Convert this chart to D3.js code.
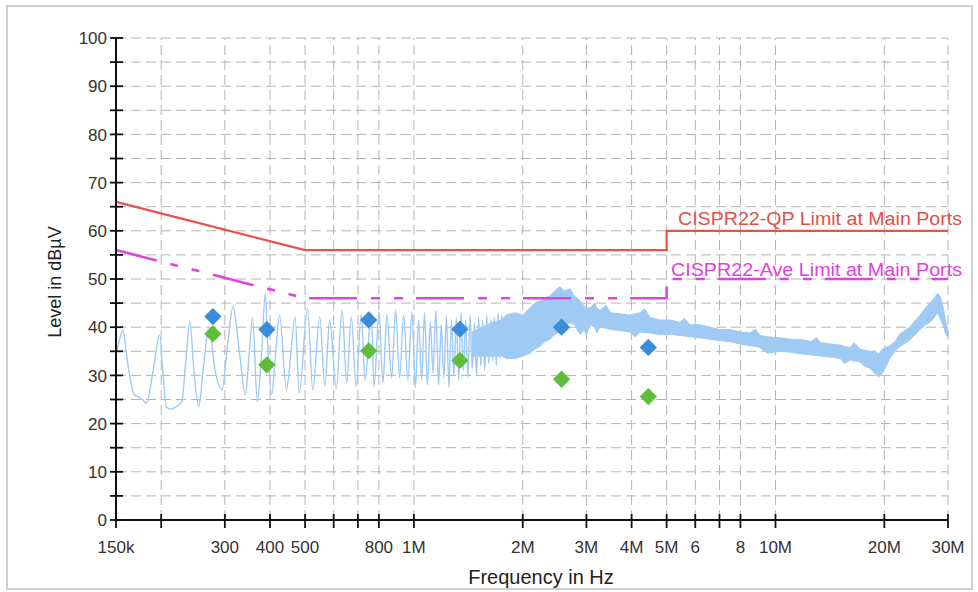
<!DOCTYPE html>
<html><head><meta charset="utf-8">
<script src="https://cdn.jsdelivr.net/npm/d3@7"></script>
<style>
html,body{margin:0;padding:0;background:#fff;}
svg{display:block;}
text{font-family:"Liberation Sans",Arial,sans-serif;}
</style></head>
<body>
<script>
// ---- data ----
const xTicks = [150e3,200e3,300e3,400e3,500e3,600e3,700e3,800e3,1e6,2e6,3e6,4e6,5e6,6e6,7e6,8e6,10e6,20e6,30e6];
const xTickLabels = ["150k","","300","400","500","","","800","1M","2M","3M","4M","5M","6","","8","10M","20M","30M"];
const yTicks = [0,10,20,30,40,50,60,70,80,90,100];
const yMinor = [5,15,25,35,45,55,65,75,85,95];

// limits (MHz, dBµV)
const limitF = [0.15, 0.5, 5, 5, 30];
const qpLimit = [66, 56, 56, 60, 60];
const aveLimit = [56, 46, 46, 50, 50];

// final measurement markers (MHz)
const markF = [0.278, 0.392, 0.750, 1.34, 2.56, 4.45];
const qpMark = [42.2, 39.5, 41.5, 39.6, 40.0, 35.8];
const aveMark = [38.6, 32.2, 35.1, 33.1, 29.2, 25.6];

// pre-scan spectrum, low band (kHz, dBµV)
const specF = [150,153,156.8,160,163.8,168.5,173,177.6,182,190,198,202,206.6,212,218,228,234,240,247,254,262,271,282,294.6,305,316,329,342,350,358,369,380,388,395,404,414,425,444,456,469,482,508,525,549,567,585,610,633,652,671,692,715,733,762,776,801,821,842,868,890,913,937,962,988,1010,1030,1050,1070,1090,1110,1130,1150,1170,1190,1210,1230,1250,1270,1290,1310,1330,1350,1370,1390,1410,1430,1450,1470,1490,1510,1530,1550,1570,1590,1610,1630,1650,1670,1690,1710,1730,1750];
const specL = [34.5,37,39.5,35,29.7,26,25.5,25,24.2,31,38.4,31,23.5,23,23.3,24.5,33,41.1,30,23.5,32,40,31,27,36,44.3,35,26,34,41.9,24.5,36,47,35,26,34,42.5,27,34,42.2,26.3,44,27,42.2,27.7,41.5,27.3,43.6,28.4,42.2,27.7,42.6,29,43,27.7,43.2,28.5,42.6,29.5,43.6,29.5,42.6,29,43.2,27.5,41.5,29,43,28,41,30.5,43.5,28,40.5,29.5,42.5,27.5,41.5,30,42,29,43,31,41.5,29.5,42.5,31.5,41,30,42,32,41.5,31,42.5,32.5,41.5,33,42,32,43,33.5,42.5];

// pre-scan spectrum, dense band envelope (MHz, dBµV)
const bandF  = [1.45,1.55,1.65,1.75,1.80,1.90,2.00,2.09,2.16,2.23,2.30,2.38,2.45,2.53,2.61,2.70,2.78,2.88,2.95,3.00,3.07,3.17,3.20,3.27,3.40,3.50,3.72,3.95,4.10,4.22,4.35,4.50,4.79,5.10,5.44,5.60,5.80,6.18,6.60,7.02,7.50,7.98,8.50,8.80,9.06,9.50,10.3,11.0,11.7,12.5,13.0,13.3,14.2,15.1,15.5,16.1,16.5,17.1,17.6,18.2,18.8,19.3,19.8,20.7,21.4,22.1,23.5,25.1,26.0,26.7,27.5,28.0,28.5,29.2,29.6,30.0];
const bandHi = [39,40,41,41.5,42.5,43,42.5,44,45,45.5,46,46.5,47.5,48.4,47.5,48,46.5,45.5,44.5,44,44,45,44,43.5,44.5,43,42.8,42.5,42.8,43,43.8,42,41.5,41.5,41,41.8,40.5,40.5,40,39.5,39.5,39,38.8,39.6,38.3,38,37.8,37.5,37.5,37,37.8,36.8,36.5,36.3,36,35.8,36.8,35.5,35.2,35,35,34.5,35.5,36.2,37,38.6,40,42.5,44,45,46,47,46.5,43.5,41,39];
const bandLo = [34,34,34,34,33.5,33.5,34,34.5,35.5,36,37,37.5,38.5,39,40,41,40.5,38.5,39.5,38.5,40.5,40,38.8,40,39.8,39.5,39.3,39,38,39,38.9,38.8,38.5,38.5,38.3,38.2,38,37.8,37.5,37.2,37,36.5,36.2,36,35.8,34.6,35,34.8,34.5,34.3,34.1,34,33.8,33.5,32.5,33.2,33,32.8,32,31.5,30.5,29.7,30.5,33.5,35,36,37.3,39.5,40.5,41,42,43,42,40,38.5,38];

// labels
const qpLabel = "CISPR22-QP Limit at Main Ports";
const aveLabel = "CISPR22-Ave Limit at Main Ports";
const xTitle = "Frequency in Hz";
const yTitle = "Level in dBµV";

// ---- drawing ----
const W = 978, H = 592;
const svg = d3.select("body").append("svg").attr("width", W).attr("height", H);

svg.append("rect").attr("x",7).attr("y",6).attr("width",965).attr("height",583)
  .attr("fill","#fff").attr("stroke","#cfcfcf").attr("stroke-width",2);

const x = d3.scaleLog().domain([150e3, 30e6]).range([116, 948]);
const y = d3.scaleLinear().domain([0, 100]).range([520, 38]);

// grid
const grid = svg.append("g").attr("stroke","#b4b4b4").attr("stroke-width",1).attr("stroke-dasharray","10,5");
grid.selectAll("line.h").data(yTicks.concat(yMinor).filter(v=>v>0)).join("line")
  .attr("x1", x(150e3)).attr("x2", x(30e6)).attr("y1", d=>y(d)).attr("y2", d=>y(d));
grid.selectAll("line.v").data(xTicks.slice(1)).join("line")
  .attr("x1", d=>x(d)).attr("x2", d=>x(d)).attr("y1", y(0)).attr("y2", y(100));

// spectrum
const specColor = "#9fcaf3";
const lineGen = d3.line().x(d=>x(d[0])).y(d=>y(d[1]));
const areaGen = d3.area().x(d=>x(d.f)).y0(d=>y(d.lo)).y1(d=>y(d.hi));
svg.append("path")
  .datum(bandF.map((f,i)=>({f:f*1e6, hi:bandHi[i], lo:bandLo[i]})))
  .attr("d", areaGen).attr("fill",specColor).attr("stroke",specColor).attr("stroke-width",1);
svg.append("path")
  .datum(specF.map((f,i)=>[f*1e3, specL[i]]))
  .attr("d", d3.line().x(d=>x(d[0])).y(d=>y(d[1])).curve(d3.curveMonotoneX))
  .attr("fill","none").attr("stroke",specColor).attr("stroke-width",1.4)
  .attr("stroke-linejoin","round");

// limits
const qpData = limitF.map((f,i)=>[f*1e6, qpLimit[i]]);
const aveData = limitF.map((f,i)=>[f*1e6, aveLimit[i]]);
svg.append("path").datum(qpData).attr("d", lineGen).attr("fill","none")
  .attr("stroke","#e5534b").attr("stroke-width",2.2);
svg.append("path").datum(aveData.slice(0,2)).attr("d", lineGen).attr("fill","none")
  .attr("stroke","#e044e0").attr("stroke-width",2.6).attr("stroke-dasharray","42,14,8,14,8,14");
svg.append("path").datum(aveData.slice(1)).attr("d", lineGen).attr("fill","none")
  .attr("stroke","#e044e0").attr("stroke-width",2.6).attr("stroke-dasharray","48,14,9,14,9,13")
  .attr("stroke-dashoffset",103);

svg.append("text").attr("x",678).attr("y",225).attr("fill","#e0504c")
  .attr("font-size",18).attr("textLength",284).attr("lengthAdjust","spacingAndGlyphs").text(qpLabel);
svg.append("text").attr("x",671).attr("y",276).attr("fill","#e040e0")
  .attr("font-size",18).attr("textLength",291).attr("lengthAdjust","spacingAndGlyphs").text(aveLabel);

// markers
const diamond = d3.symbol().type(d3.symbolSquare).size(150);
function drawMarks(vals, color){
  svg.append("g").selectAll("path").data(markF.map((f,i)=>[f*1e6, vals[i]])).join("path")
    .attr("d", diamond)
    .attr("transform", d=>`translate(${x(d[0])},${y(d[1])}) rotate(45)`)
    .attr("fill", color);
}
drawMarks(aveMark, "#5fbd3a");
drawMarks(qpMark, "#3a8ed9");

// axes
const ax = svg.append("g").attr("stroke","#111").attr("stroke-width",2);
ax.append("line").attr("x1",x(150e3)).attr("x2",x(150e3)).attr("y1",y(0)).attr("y2",y(100));
ax.append("line").attr("x1",x(150e3)).attr("x2",x(30e6)).attr("y1",y(0)).attr("y2",y(0));
ax.selectAll("line.yt").data(yTicks.concat(yMinor)).join("line")
  .attr("x1",110).attr("x2",123).attr("y1",d=>y(d)).attr("y2",d=>y(d)).attr("stroke-width",1.8);
ax.selectAll("line.xt").data(xTicks).join("line")
  .attr("x1",d=>x(d)).attr("x2",d=>x(d)).attr("y1",514).attr("y2",528).attr("stroke-width",1.8);

svg.append("g").selectAll("text").data(yTicks).join("text")
  .attr("x",107).attr("y",d=>y(d)).attr("dy","0.36em").attr("text-anchor","end")
  .attr("font-size",17).attr("fill","#333").text(d=>d);
svg.append("g").selectAll("text").data(xTicks).join("text")
  .attr("x",d=>x(d)).attr("y",553).attr("text-anchor","middle")
  .attr("font-size",17).attr("fill","#333").text((d,i)=>xTickLabels[i]);

svg.append("text").attr("x",541).attr("y",584).attr("text-anchor","middle")
  .attr("font-size",20).attr("fill","#222").text(xTitle);
svg.append("text").attr("transform","translate(61,282) rotate(-90)").attr("text-anchor","middle")
  .attr("font-size",18).attr("fill","#222").text(yTitle);
</script>
</body></html>
